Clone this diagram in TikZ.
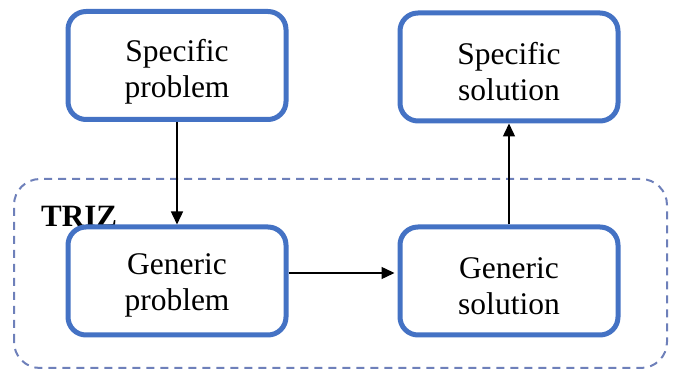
\documentclass[tikz,border=0pt]{standalone}
\usepackage{fontspec}
\setmainfont{Liberation Serif}
\usetikzlibrary{arrows.meta}
\definecolor{boxblue}{RGB}{68,114,196}
\definecolor{zoneblue}{RGB}{110,128,186}
\begin{document}
\begin{tikzpicture}[x=1pt,y=1pt,
  stage/.style={draw=boxblue, line width=5pt, rounded corners=18pt, fill=white,
    minimum width=218pt, minimum height=108pt},
  stagetext/.style={align=center, inner sep=0pt,
    font=\fontsize{31.5}{36}\selectfont},
  link/.style={line width=1.4pt, -{Triangle[length=13pt,width=12pt]}}]
\useasboundingbox (0,0) rectangle (673,374);
% TRIZ abstraction zone
\draw[zoneblue, line width=2pt, dash pattern=on 8pt off 6pt, rounded corners=26pt]
  (14,6) rectangle (667,195);
\node[anchor=base west, font=\bfseries\fontsize{31}{36}\selectfont, inner sep=0pt]
  (triz) at (41,147) {TRIZ};
% stages
\node[stage] (sp) at (177,308.5) {};
\node[stage] (ss) at (509,307) {};
\node[stage] (gp) at (177,93) {};
\node[stage] (gs) at (509,93) {};
\node[stagetext] (sptext) at ([yshift=-6pt]sp.center) {Specific\\problem};
\node[stagetext] (sstext) at ([yshift=-5pt]ss.center) {Specific\\solution};
\node[stagetext] (gptext) at ([yshift=-4pt]gp.center) {Generic\\problem};
\node[stagetext] (gstext) at ([yshift=-5pt]gs.center) {Generic\\solution};
% connectors
\draw[link] (sp.south) -- (gp.north);
\draw[link, shorten >=3pt] (gp.east |- 0,101) -- (gs.west |- 0,101);
\draw[link] (gs.north) -- (ss.south);
\end{tikzpicture}
\end{document}
